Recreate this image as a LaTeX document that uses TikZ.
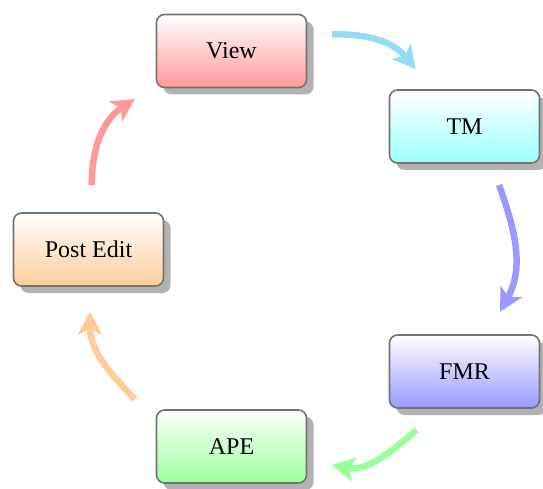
\documentclass[tikz,border=0pt]{standalone}
\usepackage{fontspec}
\setmainfont{Liberation Serif}
\usetikzlibrary{arrows.meta,shadows}
\definecolor{skyarrow}{RGB}{150,220,245}
\tikzset{
  module/.style={draw={rgb,255:red,115;green,115;blue,115}, line width=1.6pt,
    rounded corners=8pt, minimum width=150pt, minimum height=73pt,
    top color=white, bottom color=#1,
    drop shadow={shadow xshift=7pt, shadow yshift=-7pt, fill=black!30, opacity=1},
    font=\fontsize{24}{28}\selectfont, text=black},
  flow/.style={draw=#1, line width=6.5pt,
    -{Stealth[length=23pt, width=24pt, inset=6pt, fill=#1]}}
}
\begin{document}
\begin{tikzpicture}[x=1pt,y=1pt]
\useasboundingbox (0,0) rectangle (543,488);
\node[module=red!40]    (view) at (231.5,437)   {View};
\node[module=cyan!40]   (tm)   at (464.5,361.5) {TM};
\node[module=blue!40]   (fmr)  at (464.5,116.5) {FMR};
\node[module=green!40]  (ape)  at (231.5,41.5)  {APE};
\node[module=orange!40] (post) at (88.5,238.5)  {Post Edit};

\coordinate (a1s) at (332,453.5);   \coordinate (a1e) at (415.7,418.7);
\coordinate (a2s) at (499,303);     \coordinate (a2e) at (500,176.3);
\coordinate (a3s) at (416.7,58);    \coordinate (a3e) at (331.7,23);
\coordinate (a4s) at (135,88.7);    \coordinate (a4e) at (90,176.3);
\coordinate (a5s) at (91.7,303);    \coordinate (a5e) at (135,389);

\draw[flow=skyarrow]   (a1s) to[out=2,in=129]   (a1e);
\draw[flow=blue!40]    (a2s) to[out=-70,in=61]  (a2e);
\draw[flow=green!40]   (a3s) to[out=220,in=-11] (a3e);
\draw[flow=orange!40]  (a4s) to[out=134,in=270] (a4e);
\draw[flow=red!40]     (a5s) to[out=90,in=213]  (a5e);
\end{tikzpicture}
\end{document}
